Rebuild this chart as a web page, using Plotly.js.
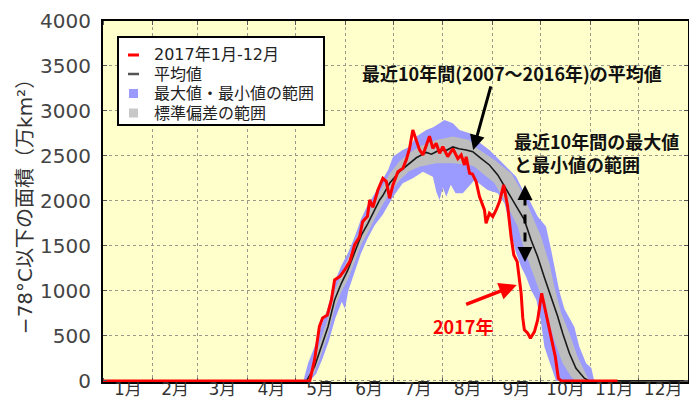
<!DOCTYPE html>
<html>
<head>
<meta charset="utf-8">
<script src="https://cdn.plot.ly/plotly-3.0.1.min.js"></script>
<style>
  html, body { margin: 0; padding: 0; background: #ffffff; }
  #chart { width: 689px; height: 401px; }
</style>
</head>
<body>
<div id="chart"></div>
<script>
// ---- data (x = day of year 2017, 0 = Jan 1; y = area in 万km²) ----
const monthLabels = ['1月','2月','3月','4月','5月','6月','7月','8月','9月','10月','11月','12月'];

// 2017 observed
const y2017Day = [0, 129, 132, 135, 137, 140, 142.5, 144.5, 147.7, 150.8, 154, 157, 160, 162, 165,
  166.4, 168.4, 171.5, 174.6, 176.8, 178.8, 180.9, 184, 187.1, 189.2, 191.3, 193.3, 195.5, 197.5,
  199.6, 201.7, 203.7, 205.8, 207.9, 210, 212, 215.1, 218.3, 221.4, 223.5, 225.5, 226.6, 228.7,
  230.5, 232.8, 234.9, 238, 239, 241.1, 243.2, 245.3, 247.4, 250, 252.5, 254.6, 256.3, 258.4,
  259.8, 260.9, 261.9, 262.9, 265, 266.7, 269.2, 271.2, 273.7, 276, 278.5, 280.6, 282.2, 284.1,
  285.8, 321];
const y2017Val = [0, 0, 233, 603, 700, 733, 900, 1122, 1159, 1233, 1326, 1511, 1600, 1770, 1830,
  2011, 1930, 2122, 2252, 2215, 2030, 2178, 2326, 2363, 2456, 2585, 2789, 2678, 2567,
  2511, 2622, 2720, 2585, 2641, 2530, 2604, 2493, 2580, 2470, 2511, 2400, 2490, 2307,
  2300, 2215, 2048, 1900, 1752, 1863, 1826, 1900, 1993, 2178, 1937, 1604, 1400, 1326,
  1122, 974, 700, 567, 530, 474, 548, 678, 974, 789, 567, 381, 270, 30,
  0, 0];

// 2007-2016 mean
const meanDay = [0, 127, 132, 136.3, 140.4, 144.5, 148.7, 152.8, 157, 161.2, 165.3, 169.5, 172.6,
  174.6, 178.8, 185, 191.3, 195.5, 201.7, 205, 210, 214, 218.3, 222, 226.6, 230.7, 236, 241.1,
  246.3, 252.5, 258.7, 262.9, 267.1, 271.2, 275.4, 279.6, 283.7, 286.8, 291, 295.1, 300.3, 303.4, 365];
const meanVal = [0, 0, 159, 381, 603, 900, 1085, 1233, 1418, 1620, 1752, 1900, 2011,
  2060, 2196, 2326, 2419, 2480, 2540, 2520, 2567, 2560, 2600, 2580, 2567, 2548, 2470, 2400,
  2290, 2104, 1919, 1789, 1567, 1381, 1150, 937, 715, 530, 307, 141, 30, 0, 0];

// 2007-2016 maximum
const maxDay = [0, 125, 128, 132, 136, 140, 144.5, 148.7, 152.8, 157, 161, 165, 169.5, 174.6, 178,
  181, 187, 191, 195.5, 201.7, 206, 210, 213, 218.3, 222.4, 228.7, 232.8, 241.1, 249.4, 257.8,
  261.9, 265, 271.2, 276.4, 279.6, 282.7, 284.7, 287.9, 291, 294.1, 297.2, 301.4, 304.7, 306.5, 365];
const maxVal = [0, 0, 200, 380, 600, 800, 1100, 1280, 1420, 1600, 1800, 1950, 2080, 2250, 2350,
  2493, 2567, 2600, 2715, 2789, 2820, 2863, 2900, 2863, 2789, 2752, 2678, 2567, 2419, 2270,
  2122, 2048, 1826, 1715, 1456, 1196, 1000, 800, 700, 600, 381, 196, 144, 0, 0];

// 2007-2016 minimum
const minDay = [0, 129, 133, 137, 141, 145, 149, 151, 153, 157, 161, 165, 169.5, 174.6, 178, 181,
  187, 193.3, 199.6, 205.8, 208, 210, 212, 214.2, 217, 220, 224.5, 231.8, 240, 246.3, 250.5,
  253.6, 255.6, 257.8, 260.9, 264, 267.1, 270.4, 272.9, 275.4, 279.6, 282.7, 365];
const minVal = [0, 0, 80, 250, 450, 700, 880, 800, 1000, 1220, 1420, 1580, 1730, 1850, 1950, 2048,
  2196, 2252, 2326, 2270, 2100, 2011, 2150, 2048, 2180, 2085, 2085, 2233, 2122, 2085, 1974,
  1752, 1567, 1419, 1270, 1159, 1011, 900, 700, 381, 159, 0, 0];

// mean + 1 standard deviation
const sdHiDay = [0, 127, 131, 136.3, 140.4, 144.5, 148.7, 152.8, 157, 161.2, 165.3, 169.5, 174.6,
  178.8, 185, 191, 197.5, 207.9, 218.3, 228.7, 231.8, 244.3, 254.6, 260.9, 267.1, 273.3, 278.5,
  281.6, 285.8, 291, 296.1, 301.4, 303.4, 365];
const sdHiVal = [0, 0, 200, 480, 700, 1000, 1180, 1340, 1520, 1720, 1860, 2000, 2160,
  2300, 2440, 2530, 2604, 2678, 2715, 2678, 2604, 2456, 2307, 2122, 1863, 1604, 1307,
  1050, 760, 530, 270, 85, 0, 0];

// mean - 1 standard deviation
const sdLoDay = [0, 129, 132, 136.3, 140.4, 144.5, 148.7, 152.8, 157, 161.2, 165.3, 169.5, 174.6,
  178.8, 185, 191, 197.5, 207.9, 218.3, 228.7, 231.8, 244.3, 252.5, 258.7, 262.9, 268.1, 273.3,
  276.4, 278.5, 281.6, 286.8, 292, 294.6, 365];
const sdLoVal = [0, 0, 100, 300, 520, 800, 990, 1130, 1320, 1520, 1650, 1800, 1960,
  2090, 2230, 2330, 2381, 2419, 2419, 2400, 2381, 2196, 1937, 1715, 1456, 1196, 950,
  800, 640, 450, 196, 48, 0, 0];

const legendNames = ['2017年1月-12月', '平均値', '最大値・最小値の範囲', '標準偏差の範囲'];

// ---- helpers ----
const T0 = Date.UTC(2017, 0, 1);
function toDate(d) {
  return new Date(T0 + d * 86400000).toISOString().slice(0, 19).replace('T', ' ');
}
const dates = arr => arr.map(toDate);

const RED = '#ff0000', BLUE = '#9a9aff', GRAY = '#bdbdbd', BLACK = '#1a1a1a';
const CJK = 'DejaVu Sans, Noto Sans CJK JP, sans-serif';
const JP = 'Noto Sans CJK JP, sans-serif';

const traces = [
  { x: dates(minDay), y: minVal, mode: 'lines', line: { width: 0, color: BLUE }, name: legendNames[2] + '(最小)', hoverinfo: 'skip' },
  { x: dates(maxDay), y: maxVal, mode: 'lines', line: { width: 0, color: BLUE }, fill: 'tonexty', fillcolor: BLUE, name: legendNames[2], hoverinfo: 'skip' },
  { x: dates(sdLoDay), y: sdLoVal, mode: 'lines', line: { width: 0, color: GRAY }, name: legendNames[3] + '(下限)', hoverinfo: 'skip' },
  { x: dates(sdHiDay), y: sdHiVal, mode: 'lines', line: { width: 0, color: GRAY }, fill: 'tonexty', fillcolor: GRAY, name: legendNames[3], hoverinfo: 'skip' },
  { x: dates(meanDay), y: meanVal, mode: 'lines', line: { width: 1.6, color: BLACK }, name: legendNames[1] },
  { x: dates(y2017Day), y: y2017Val, mode: 'lines', line: { width: 3, color: RED }, name: legendNames[0] }
];

// ---- legend box drawn in plot-area fractions (paper coords) ----
const PL = 103, PR = 688, PT = 21, PB = 382;
const px = v => (v - PL) / (PR - PL);
const py = v => (PB - v) / (PB - PT);
const rowY = [55, 74, 93.5, 113];
const legendSymbols = [
  { kind: 'line', color: RED, width: 3 },
  { kind: 'line', color: '#555', width: 2.5 },
  { kind: 'box', color: BLUE },
  { kind: 'box', color: '#c8c8c8' }
];

const shapes = [
  { type: 'rect', xref: 'paper', yref: 'paper', x0: px(118), x1: px(324), y0: py(125), y1: py(37),
    fillcolor: '#ffffff', line: { color: '#000', width: 2 }, layer: 'above' }
];
const annotations = [];
legendSymbols.forEach((s, i) => {
  const yy = rowY[i];
  if (s.kind === 'line') {
    shapes.push({ type: 'line', xref: 'paper', yref: 'paper', x0: px(128), x1: px(139), y0: py(yy), y1: py(yy),
      line: { color: s.color, width: s.width }, layer: 'above' });
  } else {
    shapes.push({ type: 'rect', xref: 'paper', yref: 'paper', x0: px(129), x1: px(138), y0: py(yy + 4.5), y1: py(yy - 4.5),
      fillcolor: s.color, line: { width: 0 }, layer: 'above' });
  }
  annotations.push({ xref: 'paper', yref: 'paper', x: px(152), y: py(yy), text: legendNames[i],
    showarrow: false, xanchor: 'left', yanchor: 'middle', font: { family: CJK, size: 16, color: '#222' } });
});

const dashX = toDate(263.3);
shapes.push({ type: 'line', xref: 'x', yref: 'y', x0: dashX, x1: dashX, y0: 2050, y1: 1450,
  line: { color: '#000', width: 3, dash: 'dash' } });

annotations.push(
  { xref: 'x', yref: 'y', x: toDate(255.2), y: 3422, text: '<b>最近10年間(2007～2016年)の平均値</b>',
    showarrow: false, xanchor: 'center', yanchor: 'middle', font: { family: JP, size: 18, color: '#111' } },
  { xref: 'x', yref: 'y', x: toDate(231), y: 2567, text: '', showarrow: true, ax: 18, ay: -65,
    arrowhead: 2, arrowsize: 1, arrowwidth: 3, arrowcolor: '#000' },
  { xref: 'x', yref: 'y', x: toDate(255.2), y: 2540, text: '<b>最近10年間の最大値</b><br><b>と最小値の範囲</b>',
    showarrow: false, xanchor: 'left', yanchor: 'middle', align: 'left',
    font: { family: JP, size: 18, color: '#111' } },
  { xref: 'x', yref: 'y', x: dashX, y: 2178, text: '', showarrow: true, ax: 0, ay: 12,
    arrowhead: 2, arrowsize: 1, arrowwidth: 3, arrowcolor: '#000' },
  { xref: 'x', yref: 'y', x: dashX, y: 1322, text: '', showarrow: true, ax: 0, ay: -12,
    arrowhead: 2, arrowsize: 1, arrowwidth: 3, arrowcolor: '#000' },
  { xref: 'x', yref: 'y', x: toDate(224.6), y: 611, text: '<b>2017年</b>',
    showarrow: false, xanchor: 'center', yanchor: 'middle', font: { family: JP, size: 18, color: RED } },
  { xref: 'x', yref: 'y', x: toDate(258.1), y: 1067, text: '', showarrow: true, ax: -52, ay: 20,
    arrowhead: 2, arrowsize: 1, arrowwidth: 3.5, arrowcolor: RED }
);

const layout = {
  width: 689, height: 401,
  margin: { l: PL, r: 689 - PR, t: PT, b: 401 - PB },
  paper_bgcolor: '#ffffff',
  plot_bgcolor: '#ffffcc',
  showlegend: false,
  xaxis: {
    type: 'date',
    range: [toDate(0), toDate(365)],
    tick0: toDate(0), dtick: 'M1',
    tickformat: '%-m月',
    ticklabelmode: 'period',
    ticks: 'inside', ticklen: 4, tickcolor: '#555',
    ticklabelstandoff: -9,
    showgrid: true, gridcolor: '#9a9a8a', griddash: 'dot', gridwidth: 1,
    showline: true, linecolor: '#000', linewidth: 2, mirror: 'ticks',
    tickfont: { family: CJK, size: 17, color: '#333' },
    layer: 'below traces',
    zeroline: false, fixedrange: true
  },
  yaxis: {
    range: [-12, 4000],
    tickvals: [0, 500, 1000, 1500, 2000, 2500, 3000, 3500, 4000],
    ticks: 'inside', ticklen: 4, tickcolor: '#555',
    showgrid: true, gridcolor: '#9a9a8a', griddash: 'dot', gridwidth: 1,
    showline: true, linecolor: '#000', linewidth: 2, mirror: 'ticks',
    tickfont: { family: 'DejaVu Sans, sans-serif', size: 20, color: '#444' },
    ticklabelstandoff: 6,
    zeroline: false, fixedrange: true,
    title: { text: '−78°C以下の面積（万km²）', font: { family: CJK, size: 20, color: '#333' }, standoff: 2 }
  },
  shapes: shapes,
  annotations: annotations
};

Plotly.newPlot('chart', traces, layout, { staticPlot: true, displayModeBar: false });
</script>
</body>
</html>
